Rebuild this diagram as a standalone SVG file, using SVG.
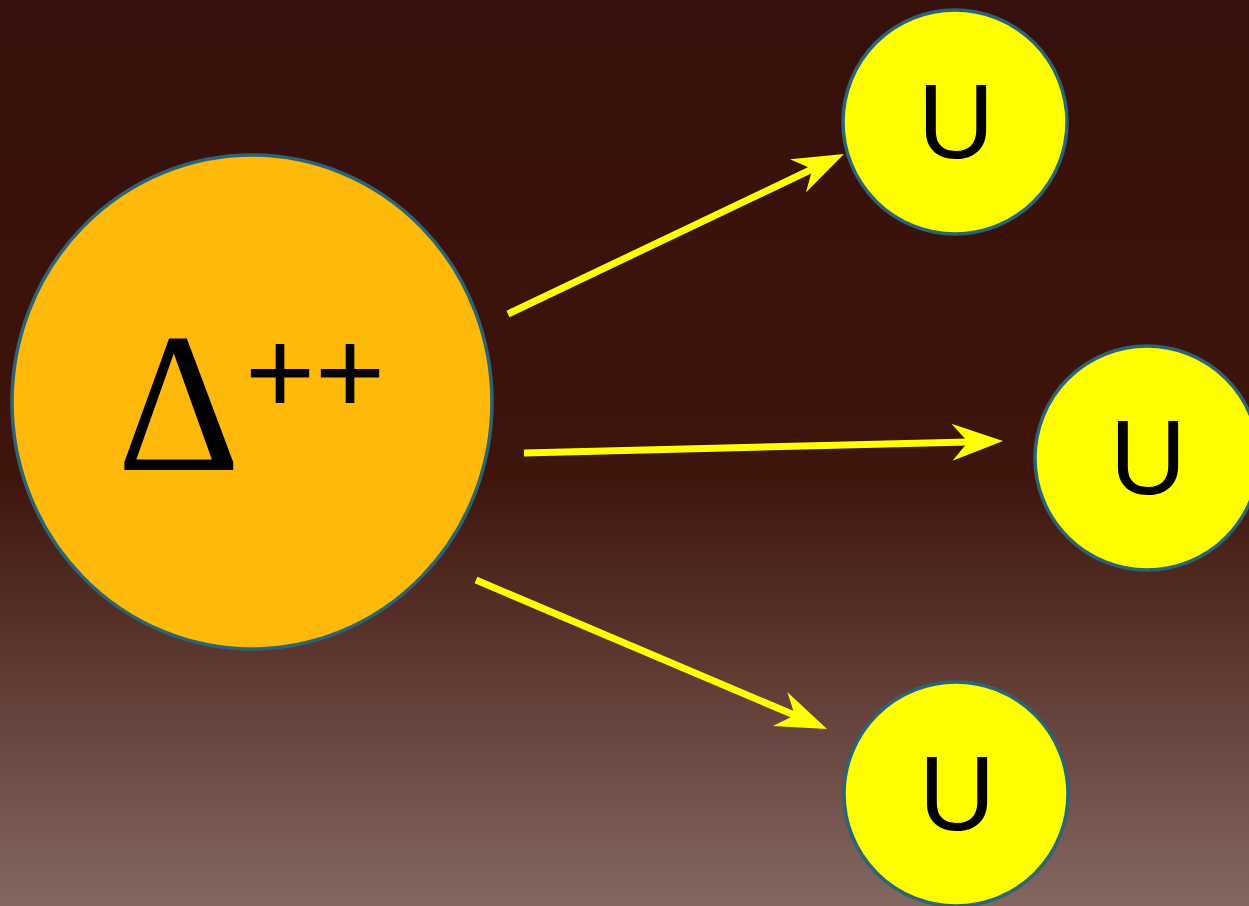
<svg xmlns="http://www.w3.org/2000/svg" width="1249" height="906" viewBox="0 0 1249 906">
  <defs>
    <linearGradient id="bg" x1="0" y1="0" x2="0" y2="1">
      <stop offset="0" stop-color="#36100a"/>
      <stop offset="0.52" stop-color="#3e140b"/>
      <stop offset="1" stop-color="#846761"/>
    </linearGradient>
    <marker id="arrow" markerUnits="userSpaceOnUse" viewBox="-20 -22 60 44" markerWidth="60" markerHeight="44" refX="0" refY="0" orient="auto" overflow="visible">
      <path d="M35,0 L-16,-18.5 L0,0 L-16,18.5 Z" fill="#ffff00"/>
    </marker>
    <style>
      .quark { fill: #ffff00; stroke: #2b6475; stroke-width: 3.5; }
      .qlabel { font-family: "Liberation Sans", Arial, sans-serif; font-size: 106px; fill: #000; text-anchor: middle; }
      .conn { stroke: #ffff00; stroke-width: 7; fill: none; marker-end: url(#arrow); }
    </style>
  </defs>
  <rect x="0" y="0" width="1249" height="906" fill="url(#bg)"/>
  <g id="connectors">
    <line class="conn" x1="508" y1="314" x2="812.4" y2="169"/>
    <line class="conn" x1="524" y1="453" x2="968" y2="441.9"/>
    <line class="conn" x1="476" y1="580" x2="794.8" y2="715.3"/>
  </g>
  <g id="delta">
    <ellipse cx="252" cy="402" rx="240" ry="247" fill="#ffb90a" stroke="#2b6475" stroke-width="3.5"/>
    <text x="117" y="470" font-family="'Liberation Serif', 'Times New Roman', serif" font-size="200" fill="#000" transform="translate(117 0) scale(0.96 1) translate(-117 0)">Δ</text>
    <text x="245" y="414" font-family="'Liberation Sans', Arial, sans-serif" font-size="120" fill="#000">++</text>
  </g>
  <g id="u1">
    <circle class="quark" cx="955" cy="122" r="112"/>
    <text class="qlabel" x="956" y="158">U</text>
  </g>
  <g id="u2">
    <circle class="quark" cx="1147" cy="458" r="112"/>
    <text class="qlabel" x="1148" y="494">U</text>
  </g>
  <g id="u3">
    <circle class="quark" cx="956" cy="794" r="112"/>
    <text class="qlabel" x="957" y="830">U</text>
  </g>
</svg>
